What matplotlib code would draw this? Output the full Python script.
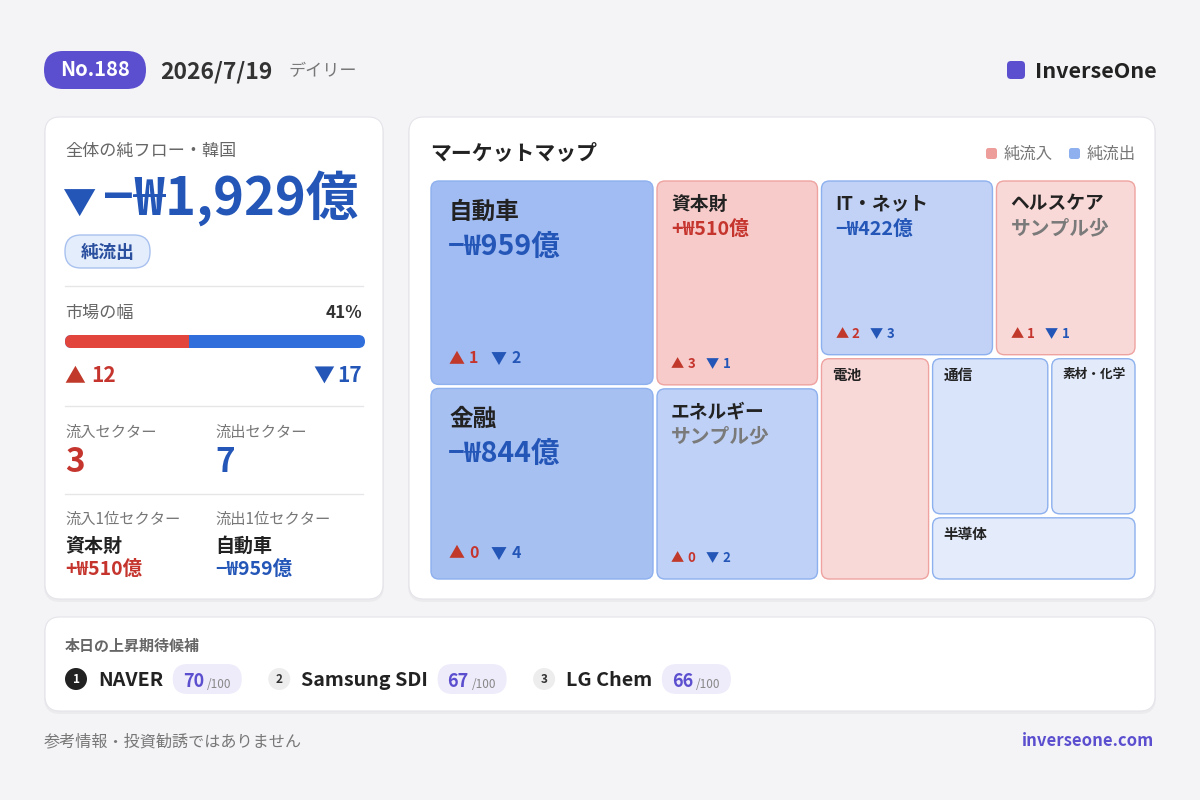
import numpy as np
import matplotlib.pyplot as plt
from matplotlib.patches import FancyBboxPatch, Circle, Rectangle

plt.rcParams['font.family'] = ['Noto Sans CJK JP', 'DejaVu Sans']

# ---- data ----
issue_no = 'No.188'
report_date = '2026/7/19'
period = 'デイリー'
market = '韓国'
total_flow = -1929
adv_count = 12
dec_count = 17
breadth_pct = 41

sectors = ['自動車', '金融', '資本財', 'エネルギー', 'IT・ネット', 'ヘルスケア',
           '電池', '通信', '素材・化学', '半導体']
flows = [-959, -844, 510, -445, -422, 280, 271, -157, -84, -79]
few_samples = [False, False, False, True, False, True, False, False, False, False]
ups = [1, 0, 3, 0, 2, 1, None, None, None, None]
downs = [2, 4, 1, 2, 3, 1, None, None, None, None]

candidates = ['NAVER', 'Samsung SDI', 'LG Chem']
scores = [70, 67, 66]

# ---- colours ----
BG = '#F4F4F7'
PURPLE = '#5B4FCF'
RED = '#C5352E'
BLUE = '#2456B8'
DARK = '#222222'
GRAY = '#777777'
LINE = '#E6E6E8'


def fmt(v):
    sign = '+' if v > 0 else '−'
    return f'{sign}₩{abs(v):,}億'


def rbox(ax, x, y, w, h, r, fc, ec='none', lw=0, z=1):
    p = FancyBboxPatch((x, y), w, h, boxstyle=f'round,pad=0,rounding_size={r}',
                       fc=fc, ec=ec, lw=lw, zorder=z)
    ax.add_patch(p)
    return p


def card(ax, x, y, w, h):
    rbox(ax, x - 1, y + 1, w + 2, h + 2, 16, '#000000', z=0.5).set_alpha(0.035)
    rbox(ax, x, y, w, h, 15, 'white', '#E4E4EA', 0.8, z=1)


fig = plt.figure(figsize=(12, 8), dpi=100, facecolor=BG)
ax = fig.add_axes([0, 0, 1, 1])
ax.set_xlim(0, 1200)
ax.set_ylim(800, 0)
ax.axis('off')

# ---- header ----
rbox(ax, 44, 51, 102, 38, 19, PURPLE, z=2)
ax.text(95, 70, issue_no, color='white', fontsize=14.5, fontweight='bold', ha='center', va='center', zorder=3)
ax.text(160, 72, report_date, color='#333333', fontsize=16.5, fontweight='bold', va='center')
ax.text(288, 71, period, color=GRAY, fontsize=12.3, va='center')
rbox(ax, 1007, 61, 18, 18, 4, PURPLE, z=2)
ax.text(1035, 71, 'InverseOne', color=DARK, fontsize=15.5, fontweight='bold', va='center')

# ---- left card ----
card(ax, 45, 117, 338, 482)
ax.text(65, 151, f'全体の純フロー・{market}', color='#666666', fontsize=12.3, va='center', zorder=3)
ax.text(63, 205, '▼', color=BLUE, fontsize=24, va='center', zorder=3)
ax.text(103, 198, fmt(total_flow), color=BLUE, fontsize=37.8, fontweight='bold', va='center', zorder=3)
rbox(ax, 65, 235, 85, 33, 16, '#E4EDFB', '#A8C1EF', 1, z=2)
ax.text(107.5, 252, '純流出' if total_flow < 0 else '純流入', color='#2A4F9E', fontsize=13,
        fontweight='bold', ha='center', va='center', zorder=3)
for yy in (285.5, 405.5, 493.5):
    ax.plot([65, 363], [yy, yy], color=LINE, lw=1, zorder=2)

ax.text(65, 313, '市場の幅', color='#666666', fontsize=12.3, va='center', zorder=3)
ax.text(362, 313, f'{breadth_pct}%', color='#333333', fontsize=12.3, fontweight='bold',
        ha='right', va='center', zorder=3)
bar_x, bar_w, bar_y, bar_h = 65, 300, 335, 13
split = bar_w * adv_count / (adv_count + dec_count)
rbox(ax, bar_x, bar_y, bar_w, bar_h, bar_h / 2, '#2F6EDB', z=2)
rbox(ax, bar_x, bar_y, split, bar_h, bar_h / 2, '#E2453C', z=3)
ax.add_patch(Rectangle((bar_x + split - 7, bar_y), 7, bar_h, fc='#E2453C', ec='none', zorder=3))

ax.text(64, 376, '▲', color='#C0392B', fontsize=15, va='center', zorder=3)
ax.text(91, 375, str(adv_count), color=RED, fontsize=15, fontweight='bold', va='center', zorder=3)
ax.text(362, 375, str(dec_count), color=BLUE, fontsize=15, fontweight='bold', ha='right', va='center', zorder=3)
ax.text(334, 376, '▼', color=BLUE, fontsize=15, ha='right', va='center', zorder=3)

n_in = sum(f > 0 for f in flows)
n_out = sum(f < 0 for f in flows)
ax.text(65, 432, '流入セクター', color=GRAY, fontsize=11, va='center', zorder=3)
ax.text(215, 432, '流出セクター', color=GRAY, fontsize=11, va='center', zorder=3)
ax.text(65, 463, str(n_in), color=RED, fontsize=24, fontweight='bold', va='center', zorder=3)
ax.text(215, 463, str(n_out), color=BLUE, fontsize=24, fontweight='bold', va='center', zorder=3)

i_top = int(np.argmax(flows))
o_top = int(np.argmin(flows))
ax.text(65, 519, '流入1位セクター', color=GRAY, fontsize=11, va='center', zorder=3)
ax.text(215, 519, '流出1位セクター', color=GRAY, fontsize=11, va='center', zorder=3)
ax.text(65, 546, sectors[i_top], color=DARK, fontsize=13.7, fontweight='bold', va='center', zorder=3)
ax.text(215, 546, sectors[o_top], color=DARK, fontsize=13.7, fontweight='bold', va='center', zorder=3)
ax.text(65, 569, fmt(flows[i_top]), color=RED, fontsize=14, fontweight='bold', va='center', zorder=3)
ax.text(215, 569, fmt(flows[o_top]), color=BLUE, fontsize=14, fontweight='bold', va='center', zorder=3)

# ---- market map card ----
card(ax, 409, 117, 746, 482)
ax.text(430, 153, 'マーケットマップ', color=DARK, fontsize=15, fontweight='bold', va='center', zorder=3)
rbox(ax, 986, 148, 11, 11, 2.5, '#EE9E9A', z=3)
ax.text(1004, 154, '純流入', color=GRAY, fontsize=11.8, va='center', zorder=3)
rbox(ax, 1069, 148, 11, 11, 2.5, '#8EB0EE', z=3)
ax.text(1087, 154, '純流出', color=GRAY, fontsize=11.8, va='center', zorder=3)

# treemap: tile area ~ sqrt(|flow|), nested slice layout
sizes = np.sqrt(np.abs(flows))
tree = ('h', [('v', [0, 1]), ('v', [2, 3]),
              ('v', [('h', [4, 5]), ('h', [6, ('v', [('h', [7, 8]), 9])])])])


def node_size(n):
    if isinstance(n, int):
        return sizes[n]
    return sum(node_size(k) for k in n[1])


def place(n, x, y, w, h, out):
    if isinstance(n, int):
        out[n] = (x, y, w, h)
        return
    d, kids = n
    tot = node_size(n)
    pos = x if d == 'h' else y
    for k in kids:
        s = node_size(k) / tot
        if d == 'h':
            place(k, pos, y, w * s, h, out)
            pos += w * s
        else:
            place(k, x, pos, w, h * s, out)
            pos += h * s


rects = {}
place(tree, 429, 179, 708, 402, rects)
smax = sizes.max()
blue_base = np.array([47, 105, 225]) / 255
red_base = np.array([224, 68, 62]) / 255

for i, name in enumerate(sectors):
    x, y, w, h = rects[i]
    x, y, w, h = x + 2, y + 2, w - 4, h - 4
    if flows[i] > 0:
        a = 0.38 * sizes[i] / smax
        base = red_base
    else:
        a = 0.45 * sizes[i] / smax
        base = blue_base
    fc = 1 - a * (1 - base)
    ec = '#EEA3A0' if flows[i] > 0 else '#8DB0EE'
    rbox(ax, x, y, w, h, 8, fc, ec, 1, z=2)
    vcol = RED if flows[i] > 0 else BLUE
    if w * h > 40000:
        ax.text(x + 18, y + 31, name, color=DARK, fontsize=17, fontweight='bold', va='center', zorder=3)
        ax.text(x + 17, y + 66, fmt(flows[i]), color=vcol, fontsize=20.5, fontweight='bold', va='center', zorder=3)
        cy, cx, csz = y + h - 26, x + 18, 11.5
        step = 1.0
    elif w > 130 and h > 120:
        ax.text(x + 14, y + 23, name, color=DARK, fontsize=13.5, fontweight='bold', va='center', zorder=3)
        if few_samples[i]:
            ax.text(x + 14, y + 48, 'サンプル少', color='#7A7A7A', fontsize=14.2, fontweight='bold', va='center', zorder=3)
        else:
            ax.text(x + 14, y + 48, fmt(flows[i]), color=vcol, fontsize=14.2, fontweight='bold', va='center', zorder=3)
        cy, cx, csz = y + h - 21, x + 14, 9.5
        step = 0.82
    else:
        fsz = min(10.5, (w - 20) / len(name) * 0.72)
        ax.text(x + 11, y + 16, name, color=DARK, fontsize=fsz, fontweight='bold', va='center', zorder=3)
        continue
    ax.text(cx, cy + 1, '▲', color='#C0392B', fontsize=csz, va='center', zorder=3)
    ax.text(cx + 20 * step, cy, str(ups[i]), color=RED, fontsize=csz, fontweight='bold', va='center', zorder=3)
    ax.text(cx + 42 * step, cy + 1, '▼', color=BLUE, fontsize=csz, va='center', zorder=3)
    ax.text(cx + 63 * step, cy, str(downs[i]), color=BLUE, fontsize=csz, fontweight='bold', va='center', zorder=3)

# ---- candidates card ----
card(ax, 45, 617, 1110, 94)
ax.text(65, 646, '本日の上昇期待候補', color='#666666', fontsize=10.8, fontweight='bold', va='center', zorder=3)
renderer = fig.canvas.get_renderer()
inv = ax.transData.inverted()
cx = 65
for k, (nm, sc) in enumerate(zip(candidates, scores)):
    first = k == 0
    ax.add_patch(Circle((cx + 11, 679), 11, fc=DARK if first else '#EDEDED', ec='none', zorder=3))
    ax.text(cx + 11, 679.5, str(k + 1), color='white' if first else '#333333', fontsize=8.5,
            fontweight='bold', ha='center', va='center', zorder=4)
    t = ax.text(cx + 33, 680, nm, color=DARK, fontsize=14.2, fontweight='bold', va='center', zorder=3)
    bb = t.get_window_extent(renderer)
    x_end = inv.transform((bb.x1, 0))[0]
    px = x_end + 9.5
    rbox(ax, px, 664, 69, 30, 15, '#EEEBFA', z=2)
    ax.text(px + 10, 687, str(sc), color=PURPLE, fontsize=13, fontweight='bold', va='baseline', zorder=3)
    ax.text(px + 34, 688, '/100', color='#888888', fontsize=8.5, va='baseline', zorder=3)
    cx = px + 69 + 26.5

# ---- footer ----
ax.text(44, 742, '参考情報・投資勧誘ではありません', color=GRAY, fontsize=11.6, va='center')
ax.text(1154, 741, 'inverseone.com', color=PURPLE, fontsize=12, fontweight='bold', ha='right', va='center')

fig.savefig('out.png', dpi=100, facecolor=BG)
